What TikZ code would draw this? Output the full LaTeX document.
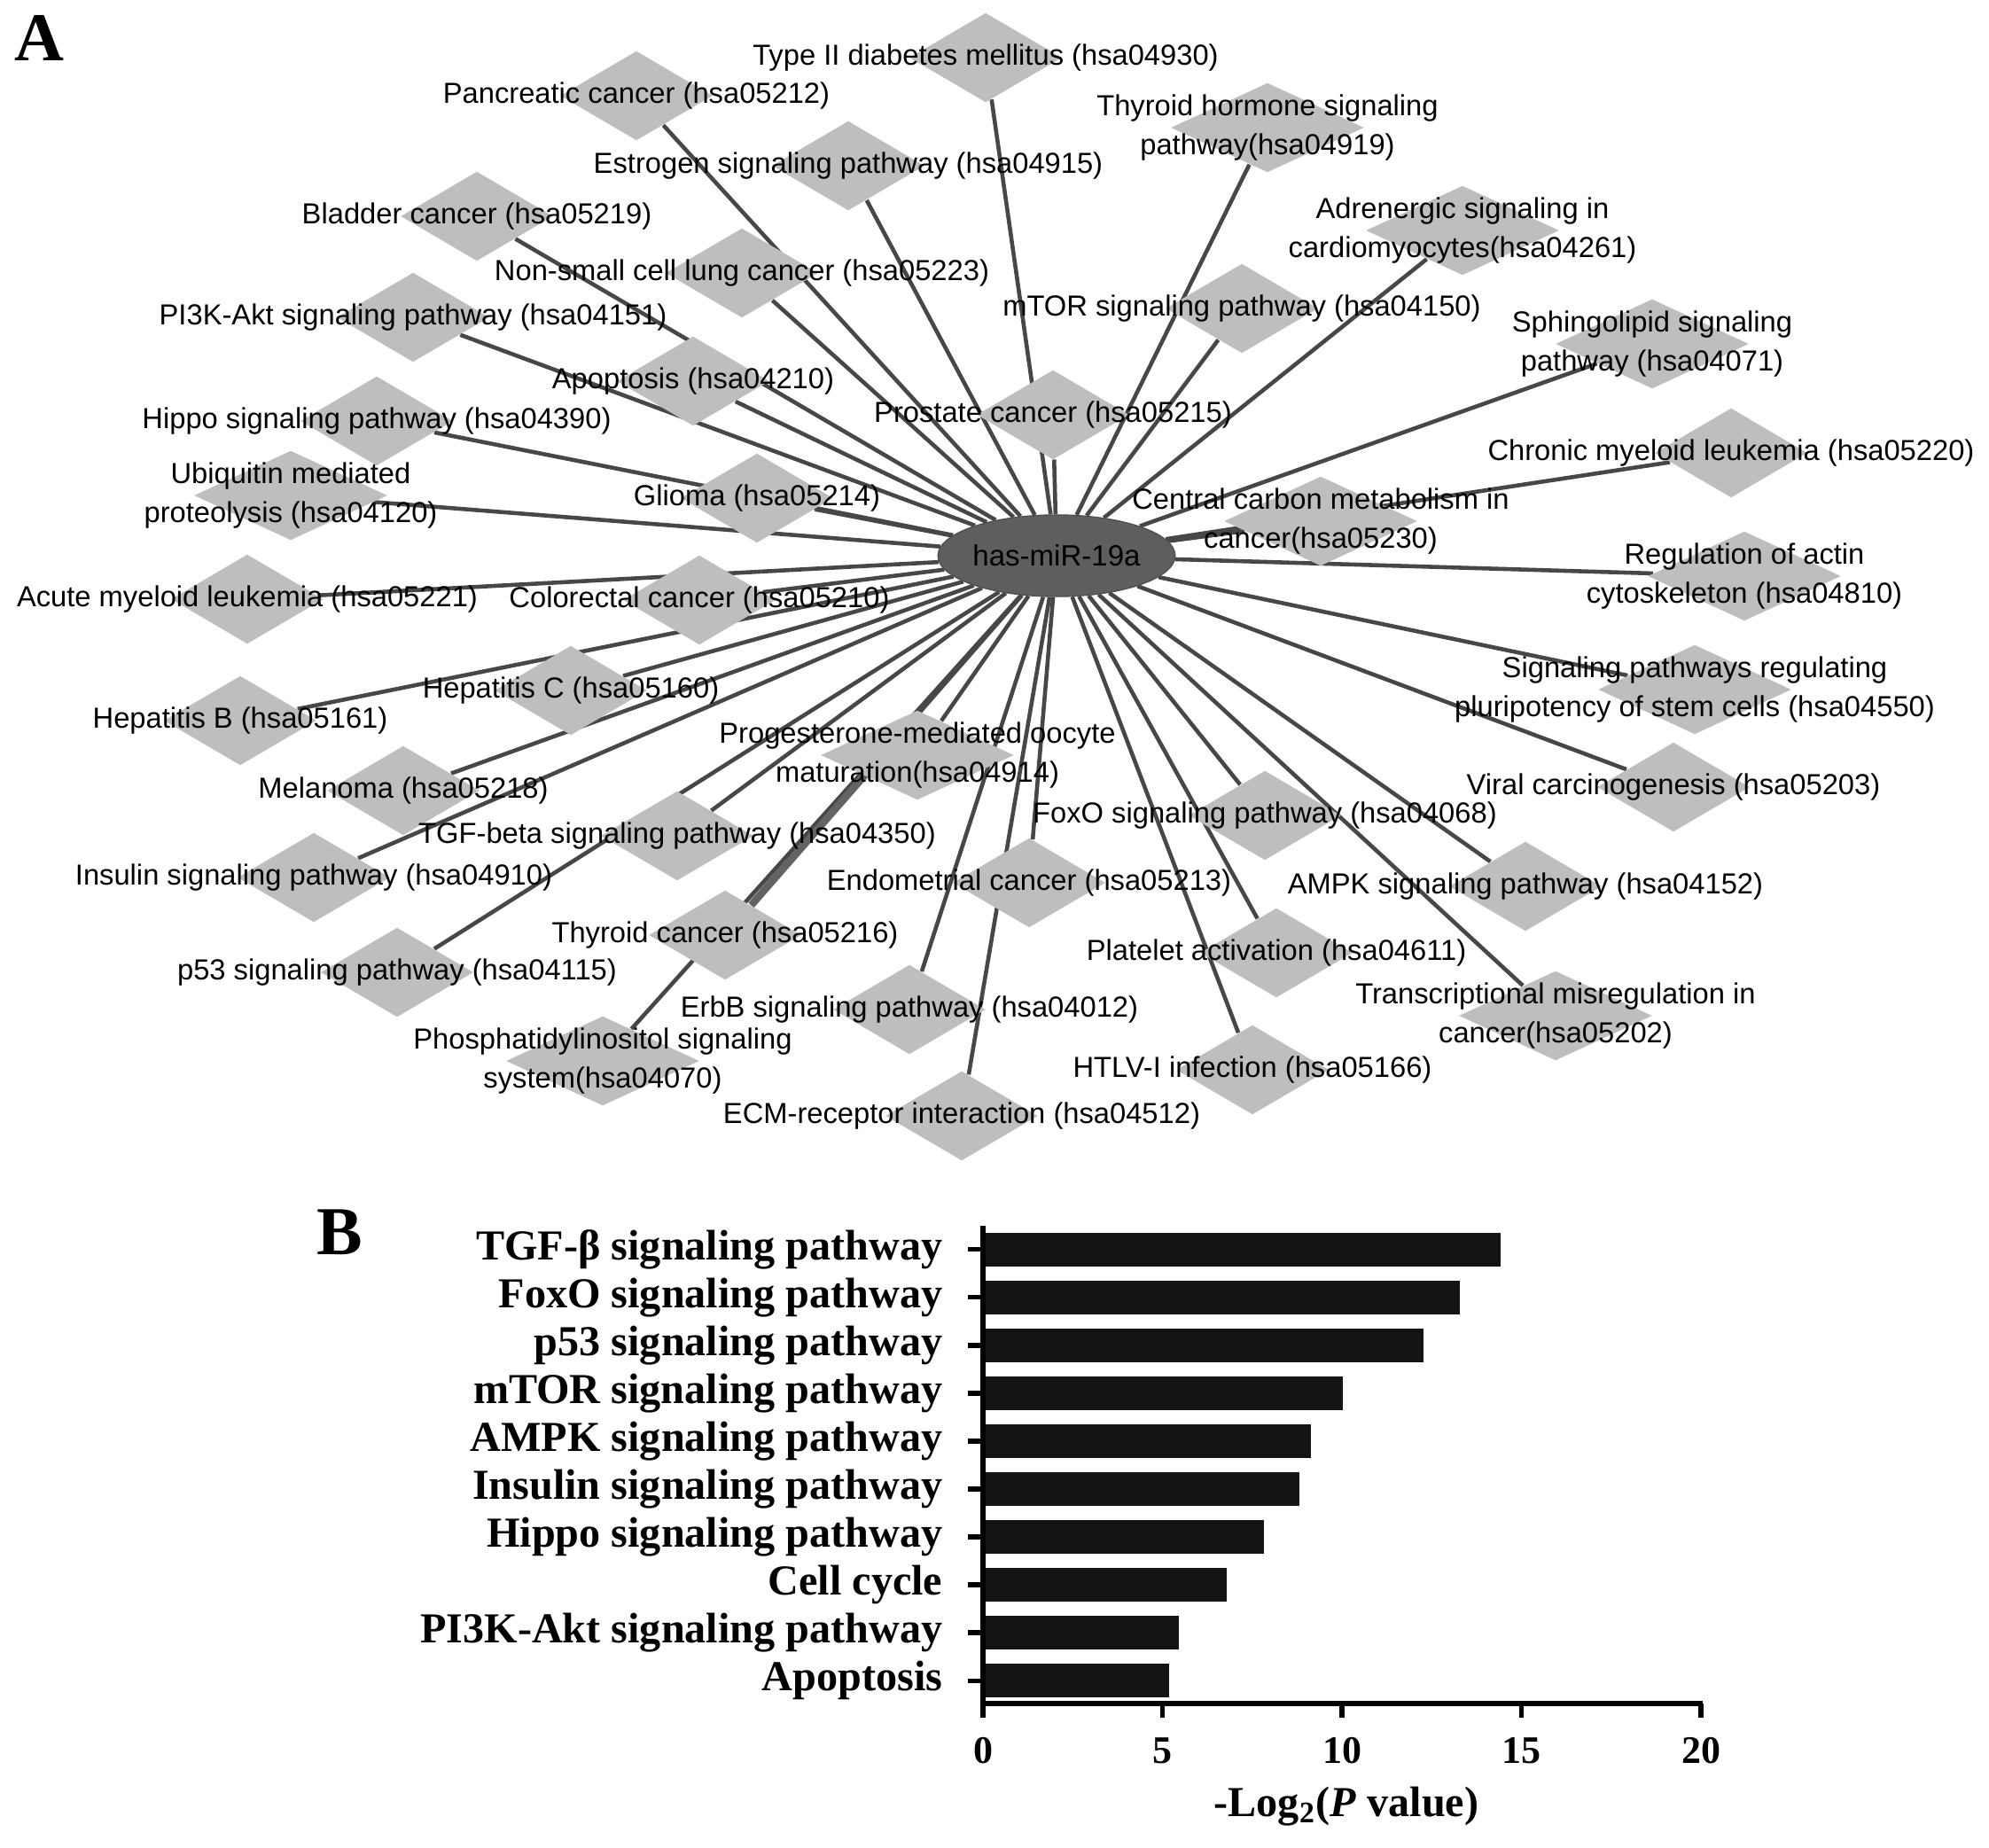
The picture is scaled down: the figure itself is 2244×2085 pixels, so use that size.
\documentclass[tikz,border=0pt]{standalone}
\usepackage{fontspec}
\setmainfont{Liberation Sans}
\newfontfamily\barfont{Liberation Serif}
\usepackage{tikz}
\usetikzlibrary{shapes.geometric,backgrounds,calc}

\definecolor{pwgray}{HTML}{BEBEBE}
\definecolor{linkgray}{HTML}{474747}
\definecolor{mirgray}{HTML}{5E5E5E}

\tikzset{
  pw/.style={diamond, fill=pwgray, inner sep=0pt, minimum width=1.72cm, minimum height=1.01cm},
  pwwide/.style={minimum width=2.18cm},
  lbl/.style={font=\fontsize{9.3}{12.5}\selectfont, align=center, inner sep=0pt},
  mir/.style={ellipse, fill=mirgray, draw=mirgray!85!black, inner sep=0pt, minimum width=2.22cm, minimum height=0.92cm, font=\fontsize{9.4}{11}\selectfont},
  link/.style={draw=linkgray, line width=1.3pt},
  bar/.style={fill=black!92},
  axis/.style={line width=1.6pt},
  barlbl/.style={font=\barfont\fontsize{13.7}{16}\selectfont\bfseries, anchor=east, inner sep=0pt},
  ticklbl/.style={font=\barfont\fontsize{12.5}{14}\selectfont\bfseries, inner sep=0pt},
  axtitle/.style={font=\barfont\fontsize{13.7}{16}\selectfont\bfseries, anchor=base, inner sep=0pt},
  panel/.style={font=\barfont\fontsize{22}{24}\selectfont\bfseries, inner sep=0pt}
}

\begin{document}
\begin{tikzpicture}[x=0.01cm, y=-0.01cm]
  \useasboundingbox (0,0) rectangle (2244,2085);

  % A: network
  \node[panel] (pa) at (44,43) {A};
  \node[mir] (mir) at (1192,627) {has-miR-19a};

  \node[pw, label={[lbl]center:Type II diabetes mellitus (hsa04930)}] (t2d) at (1112,65) {};
  \node[pw, label={[lbl]center:Pancreatic cancer (hsa05212)}] (panc) at (718,108) {};
  \node[pw, pwwide, label={[lbl]center:Thyroid hormone signaling\\pathway(hsa04919)}] (thyh) at (1430,144) {};
  \node[pw, label={[lbl]center:Estrogen signaling pathway (hsa04915)}] (estr) at (957,187) {};
  \node[pw, label={[lbl]center:Bladder cancer (hsa05219)}] (bladder) at (538,244) {};
  \node[pw, pwwide, label={[lbl]center:Adrenergic signaling in\\cardiomyocytes(hsa04261)}] (adren) at (1650,260) {};
  \node[pw, label={[lbl]center:Non-small cell lung cancer (hsa05223)}] (nsclc) at (837,308) {};
  \node[pw, label={[lbl]center:mTOR signaling pathway (hsa04150)}] (mtor) at (1401,348) {};
  \node[pw, label={[lbl]center:PI3K-Akt signaling pathway (hsa04151)}] (pi3k) at (466,358) {};
  \node[pw, pwwide, label={[lbl]center:Sphingolipid signaling\\pathway (hsa04071)}] (sphingo) at (1864,388) {};
  \node[pw, label={[lbl]center:Apoptosis (hsa04210)}] (apop) at (782,430) {};
  \node[pw, label={[lbl]center:Prostate cancer (hsa05215)}] (prost) at (1188,468) {};
  \node[pw, label={[lbl]center:Hippo signaling pathway (hsa04390)}] (hippo) at (425,475) {};
  \node[pw, label={[lbl]center:Chronic myeloid leukemia (hsa05220)}] (cml) at (1953,511) {};
  \node[pw, pwwide, label={[lbl]center:Ubiquitin mediated\\proteolysis (hsa04120)}] (ubiq) at (328,559) {};
  \node[pw, label={[lbl]center:Glioma (hsa05214)}] (glioma) at (854,562) {};
  \node[pw, pwwide, label={[lbl]center:Central carbon metabolism in\\cancer(hsa05230)}] (ccm) at (1490,588) {};
  \node[pw, pwwide, label={[lbl]center:Regulation of actin\\cytoskeleton (hsa04810)}] (actin) at (1968,650) {};
  \node[pw, label={[lbl]center:Acute myeloid leukemia (hsa05221)}] (aml) at (279,676) {};
  \node[pw, label={[lbl]center:Colorectal cancer (hsa05210)}] (crc) at (789,677) {};
  \node[pw, pwwide, label={[lbl]center:Signaling pathways regulating\\pluripotency of stem cells (hsa04550)}] (pluri) at (1912,778) {};
  \node[pw, label={[lbl]center:Hepatitis C (hsa05160)}] (hepc) at (644,779) {};
  \node[pw, label={[lbl]center:Hepatitis B (hsa05161)}] (hepb) at (271,813) {};
  \node[pw, pwwide, label={[lbl]center:Progesterone-mediated oocyte\\maturation(hsa04914)}] (prog) at (1035,852) {};
  \node[pw, label={[lbl]center:Viral carcinogenesis (hsa05203)}] (viral) at (1888,888) {};
  \node[pw, label={[lbl]center:Melanoma (hsa05218)}] (mela) at (455,892) {};
  \node[pw, label={[lbl]center:FoxO signaling pathway (hsa04068)}] (foxo) at (1427,920) {};
  \node[pw, label={[lbl]center:TGF-beta signaling pathway (hsa04350)}] (tgfb) at (764,943) {};
  \node[pw, label={[lbl]center:Insulin signaling pathway (hsa04910)}] (insulin) at (354,990) {};
  \node[pw, label={[lbl]center:Endometrial cancer (hsa05213)}] (endo) at (1161,996) {};
  \node[pw, label={[lbl]center:AMPK signaling pathway (hsa04152)}] (ampk) at (1721,1000) {};
  \node[pw, label={[lbl]center:Thyroid cancer (hsa05216)}] (thyc) at (818,1055) {};
  \node[pw, label={[lbl]center:Platelet activation (hsa04611)}] (plate) at (1440,1075) {};
  \node[pw, label={[lbl]center:p53 signaling pathway (hsa04115)}] (p53) at (448,1097) {};
  \node[pw, label={[lbl]center:ErbB signaling pathway (hsa04012)}] (erbb) at (1026,1139) {};
  \node[pw, pwwide, label={[lbl]center:Transcriptional misregulation in\\cancer(hsa05202)}] (transc) at (1755,1146) {};
  \node[pw, pwwide, label={[lbl]center:Phosphatidylinositol signaling\\system(hsa04070)}] (phos) at (680,1197) {};
  \node[pw, label={[lbl]center:HTLV-I infection (hsa05166)}] (htlv) at (1413,1207) {};
  \node[pw, label={[lbl]center:ECM-receptor interaction (hsa04512)}] (ecm) at (1085,1259) {};

  \begin{scope}[on background layer]
    \foreach \n in {t2d,panc,thyh,estr,bladder,adren,nsclc,mtor,pi3k,sphingo,apop,prost,hippo,cml,ubiq,glioma,ccm,actin,aml,crc,pluri,hepc,hepb,prog,viral,mela,foxo,tgfb,insulin,endo,ampk,thyc,plate,p53,erbb,transc,phos,htlv,ecm}
      \draw[link] (mir) -- (\n);
    % heavier stretch of the thyroid cancer link, from under the progesterone node
    \coordinate (thymid) at ($(mir.center)!0.5!(thyc.center)$);
    \draw[link, line width=2.4pt, draw=linkgray!85] (thymid) -- (thyc);
  \end{scope}

  % B: bar chart
  \node[panel] (pb) at (383,1390) {B};
  \foreach \lab/\val [count=\i from 0] in {TGF-β signaling pathway/14.42, FoxO signaling pathway/13.28, p53 signaling pathway/12.27, mTOR signaling pathway/10.02, AMPK signaling pathway/9.14, Insulin signaling pathway/8.81, Hippo signaling pathway/7.83, Cell cycle/6.79, PI3K-Akt signaling pathway/5.46, Apoptosis/5.19} {
    \pgfmathsetmacro\yb{1409.5+54.1*\i}
    \fill[bar] (1109,\yb-19) rectangle ({1109+40.5*\val},\yb+19);
    \draw[axis] (1092,\yb) -- (1109,\yb);
    \node[barlbl] (bl\i) at (1064,\yb) {\lab};
  }
  \draw[axis] (1109,1383) -- (1109,1922) -- (1921,1922);
  \foreach \v in {0,5,10,15,20} {
    \draw[axis] ({1109+40.5*\v},1922) -- ({1109+40.5*\v},1938);
    \node[ticklbl] (tk\v) at ({1109+40.5*\v},1975) {\v};
  }
  \node[axtitle] (xt) at (1519,2049) {-Log\textsubscript{2}(\textit{P} value)};
\end{tikzpicture}
\end{document}
